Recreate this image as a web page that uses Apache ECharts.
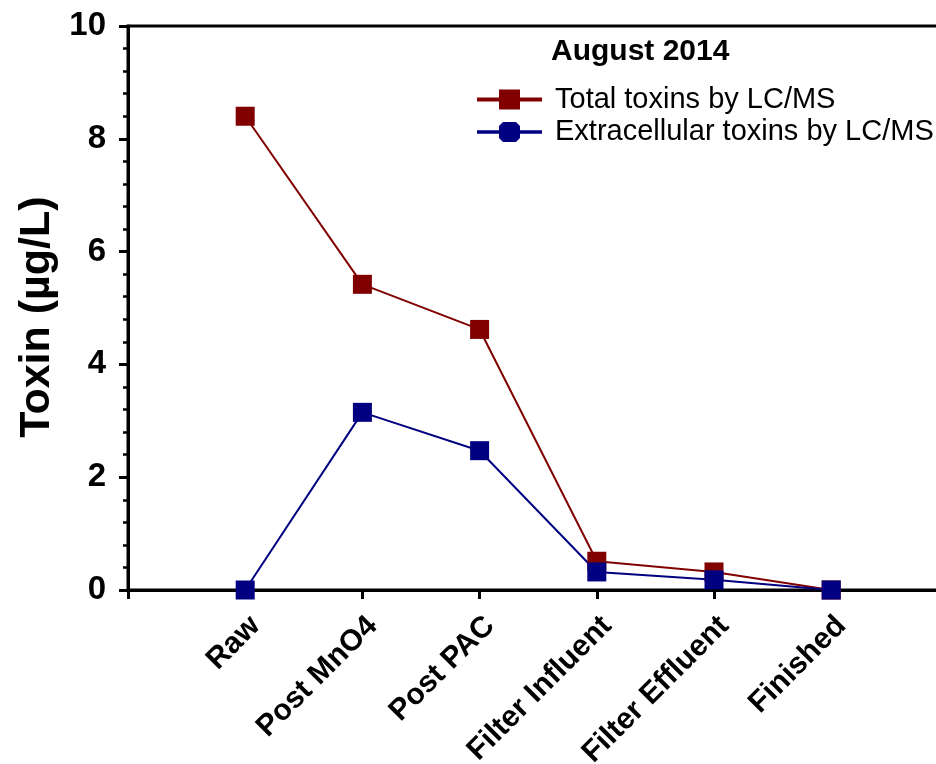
<!DOCTYPE html>
<html>
<head>
<meta charset="utf-8">
<script src="https://cdn.jsdelivr.net/npm/echarts@6/dist/echarts.min.js"></script>
<style>
  html, body { margin: 0; padding: 0; background: #fff; }
  #chart { width: 936px; height: 764px; }
</style>
</head>
<body>
<div id="chart"></div>
<script>
// Treatment stages along the x axis
const categories = ['Raw', 'Post MnO4', 'Post PAC', 'Filter Influent', 'Filter Effluent', 'Finished'];
// Toxin concentrations (µg/L) at each stage
const totalToxins = [8.4, 5.42, 4.62, 0.51, 0.32, 0];
const extracellularToxins = [0, 3.15, 2.47, 0.32, 0.18, 0];
const seriesNames = ['Total toxins by LC/MS', 'Extracellular toxins by LC/MS'];
const legendTitle = 'August 2014';

const RED = '#800000';
const BLUE = '#000080';
const FONT = '"Liberation Sans", Arial, sans-serif';

const toPoints = vals => vals.map((v, i) => [i, v]);

const chart = echarts.init(document.getElementById('chart'), null, { renderer: 'canvas' });

chart.setOption({
  animation: false,
  backgroundColor: '#fff',
  title: {
    text: legendTitle,
    left: 551,
    top: 37,
    padding: 0,
    textStyle: { fontFamily: FONT, fontSize: 30, fontWeight: 'bold', color: '#000' }
  },
  legend: {
    orient: 'vertical',
    left: 477,
    top: 85,
    padding: 0,
    itemGap: 3.5,
    itemWidth: 65,
    itemHeight: 20,
    textStyle: { fontFamily: FONT, fontSize: 29, color: '#000', lineHeight: 28, padding: [0, 0, 0, 8] },
    itemStyle: { borderWidth: 0 },
    data: [
      { name: seriesNames[0], icon: 'path://M0,8H22V0H43V8H65V12H43V20H22V12H0Z' },
      { name: seriesNames[1], icon: 'path://M0,8.2H22V4L26,0H39L43,4V8.2H65V11.8H43V16L39,20H26L22,16V11.8H0Z' }
    ]
  },
  grid: {
    left: 128,
    top: 26,
    width: 820.4,
    height: 564,
    outerBoundsMode: 'none',
    containLabel: false,
    show: true,
    borderColor: '#000',
    borderWidth: 3,
    backgroundColor: 'transparent'
  },
  xAxis: {
    type: 'value',
    min: -1,
    max: 6,
    interval: 1,
    axisLine: { show: true, onZero: false, lineStyle: { color: '#000', width: 3 } },
    axisTick: { show: true, inside: false, length: 9, lineStyle: { color: '#000', width: 3 } },
    splitLine: { show: false },
    axisLabel: {
      rotate: 45,
      margin: 21,
      verticalAlign: 'top',
      lineHeight: 29,
      fontFamily: FONT,
      fontSize: 30,
      fontWeight: 'bold',
      color: '#000',
      formatter: v => (Number.isInteger(v) && v >= 0 && v < categories.length) ? categories[v] : ''
    }
  },
  yAxis: {
    type: 'value',
    min: 0,
    max: 10,
    interval: 2,
    name: 'Toxin (µg/L)',
    nameLocation: 'middle',
    nameGap: 64,
    nameTextStyle: { fontFamily: FONT, fontSize: 43, fontWeight: 'bold', color: '#000', padding: [0, 0, 0, -18] },
    axisLine: { show: true, onZero: false, lineStyle: { color: '#000', width: 3 } },
    axisTick: { show: true, inside: false, length: 9, lineStyle: { color: '#000', width: 3 } },
    minorTick: { show: true, splitNumber: 5, length: 5, lineStyle: { color: '#000', width: 2.5 } },
    splitLine: { show: false },
    axisLabel: { margin: 22, fontFamily: FONT, fontSize: 33, fontWeight: 'bold', color: '#000' }
  },
  series: [
    {
      name: seriesNames[0],
      type: 'line',
      data: toPoints(totalToxins),
      symbol: 'rect',
      symbolSize: 19,
      color: RED,
      lineStyle: { color: RED, width: 2 },
      itemStyle: { color: RED, borderWidth: 0 }
    },
    {
      name: seriesNames[1],
      type: 'line',
      data: toPoints(extracellularToxins),
      symbol: 'rect',
      symbolSize: 19,
      color: BLUE,
      lineStyle: { color: BLUE, width: 2 },
      itemStyle: { color: BLUE, borderWidth: 0 }
    }
  ]
});
</script>
</body>
</html>
